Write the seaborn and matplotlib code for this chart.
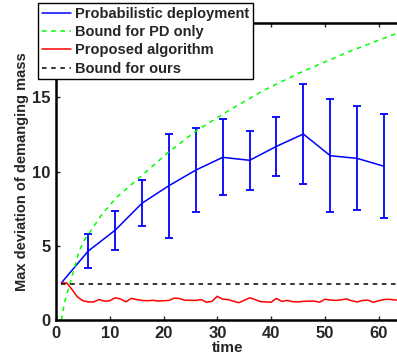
import numpy as np
import pandas as pd
import matplotlib
matplotlib.use("Agg")
import matplotlib.pyplot as plt
import seaborn as sns
from matplotlib.lines import Line2D

# ---- data ----
pd_time = [1, 6, 11, 16, 21, 26, 31, 36, 41, 46, 51, 56, 61]
pd_mean = [2.5, 4.65, 6.05, 7.87, 9.05, 10.1, 10.96, 10.76, 11.7, 12.53, 11.07, 10.89, 10.36]
pd_err = [0.0, 1.14, 1.31, 1.53, 3.5, 2.82, 2.55, 2.0, 1.98, 3.38, 3.82, 3.5, 3.5]

bound_pd_time = [1.0, 1.6, 2.6, 3.5, 4.15, 5.1, 6.0, 8.5, 11.3, 15.6, 20.9, 26.1, 32.3, 38.5, 45.4, 54.6, 64.0]
bound_pd_val = [0.0, 1.2, 2.46, 3.58, 4.48, 5.3, 5.75, 7.1, 8.28, 9.62, 11.3, 12.75, 14.15, 15.45, 16.67, 18.1, 19.4]

prop_time = list(range(1, 65))
prop_val = [2.5, 2.5, 2.05, 1.55, 1.3, 1.22, 1.22, 1.38, 1.27, 1.3,
            1.5, 1.42, 1.23, 1.46, 1.38, 1.32, 1.3, 1.33, 1.28, 1.3,
            1.32, 1.48, 1.45, 1.33, 1.33, 1.32, 1.38, 1.2, 1.26, 1.6,
            1.4, 1.38, 1.27, 1.17, 1.33, 1.5, 1.38, 1.24, 1.22, 1.2,
            1.46, 1.25, 1.32, 1.24, 1.22, 1.26, 1.27, 1.28, 1.2, 1.4,
            1.35, 1.32, 1.36, 1.42, 1.3, 1.22, 1.32, 1.34, 1.2, 1.3,
            1.38, 1.4, 1.35, 1.34]

bound_ours_time = [1, 64]
bound_ours_val = [2.4, 2.4]

labels = ["Probabilistic deployment", "Bound for PD only", "Proposed algorithm", "Bound for ours"]
xticks = [0, 10, 20, 30, 40, 50, 60]
yticks = [0, 5, 10, 15]

# ---- style ----
sns.set_style("ticks")
plt.rcParams['font.family'] = ['Liberation Sans', 'DejaVu Sans']
plt.rcParams['font.weight'] = 'bold'
plt.rcParams['font.size'] = 10

fig = plt.figure(figsize=(3.97, 3.56), dpi=100)
ax = fig.add_axes([0.141, 0.101, 0.867, 0.834])

sns.lineplot(x=pd_time, y=pd_mean, ax=ax, color='#0000ff', lw=1.1, legend=False)
ax.errorbar(pd_time[1:], pd_mean[1:], yerr=pd_err[1:], fmt='none', ecolor='#0000ff',
            elinewidth=1.3, capsize=2.6, capthick=1.3)
sns.lineplot(x=bound_pd_time, y=bound_pd_val, ax=ax, color='#00ff00', lw=1.1, legend=False)
ax.lines[-1].set_linestyle((0, (3, 3)))
sns.lineplot(x=prop_time, y=prop_val, ax=ax, color='#ff0000', lw=1.1, legend=False)
sns.lineplot(x=bound_ours_time, y=bound_ours_val, ax=ax, color='black', lw=1.1, legend=False)
ax.lines[-1].set_linestyle((0, (3, 3)))

ax.set_xlim(0, 64)
ax.set_ylim(0, 20)
ax.set_xticks(xticks)
ax.set_yticks(yticks)
ax.tick_params(direction='in', length=3, width=1, top=True, right=False,
               labelsize=12, pad=4)
for lab in ax.get_xticklabels() + ax.get_yticklabels():
    lab.set_fontweight('bold')
for s in ['left', 'bottom', 'top']:
    ax.spines[s].set_linewidth(1.8)
    ax.spines[s].set_color('black')
ax.spines['right'].set_visible(False)

ax.set_xlabel("time", fontsize=11, fontweight='bold', labelpad=0)
ax.set_ylabel("Max deviation of demanging mass", fontsize=10.5, fontweight='bold', labelpad=2)

handles = [Line2D([], [], color='#0000ff', lw=1.1),
           Line2D([], [], color='#00ff00', lw=1.1, ls=(0, (3, 3))),
           Line2D([], [], color='#ff0000', lw=1.1),
           Line2D([], [], color='black', lw=1.1, ls=(0, (3, 3)))]
leg = fig.legend(handles, labels, loc='upper left', bbox_to_anchor=(38 / 397, 1 - 3 / 356),
                 frameon=True, fancybox=False, edgecolor='black', framealpha=1,
                 prop={'weight': 'bold', 'size': 10.5}, handlelength=2.0,
                 handletextpad=0.3, borderpad=0.25, labelspacing=0.3, borderaxespad=0)
leg.get_frame().set_linewidth(1.0)

fig.savefig("out.png", dpi=100)
